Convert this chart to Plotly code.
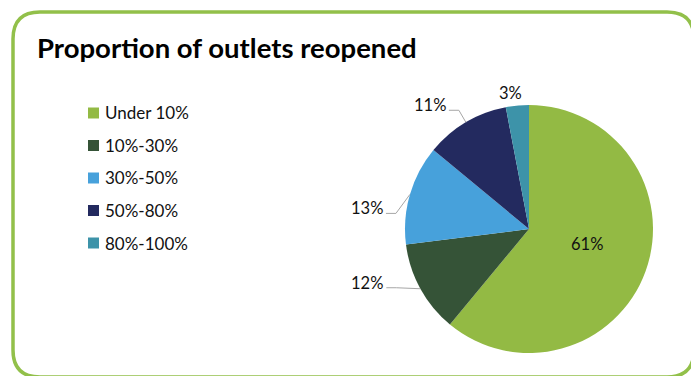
import math
import plotly.graph_objects as go

# ---- data ----
categories = ["Under 10%", "10%-30%", "30%-50%", "50%-80%", "80%-100%"]
shares = [61, 12, 13, 11, 3]
title_text = "Proportion of outlets reopened"

# ---- style ----
COLORS = ["#93BA44", "#355337", "#47A1DB", "#232A5F", "#3D93A9"]
BORDER = "#92C04A"
TEXT = "#111111"
FONT = "Lato"
W, H = 691, 376
CX, CY, R = 529, 229, 124          # pie centre / radius in px
INSIDE_MIN = 20                     # slices >= this get an inside label
LABEL_NUDGE = [(0, -6), (-53, -6), (-43, 14), (-36, -17), (-7, -13)]
SHOW_LEADER = [False, True, True, True, False]
LABEL_HALF_W = 16


def px(x):
    return x / W


def py(y):
    return 1 - y / H


fig = go.Figure(
    go.Pie(
        labels=categories,
        values=shares,
        sort=False,
        direction="clockwise",
        rotation=0,
        marker=dict(colors=COLORS, line=dict(width=0)),
        textinfo="none",
        hoverinfo="label+percent",
        showlegend=False,
        domain=dict(x=[px(CX - R), px(CX + R)], y=[py(CY + R), py(CY - R)]),
    )
)

annotations = []
shapes = []

# data labels, positioned from the slice mid-angles
total = sum(shares)
cum = 0.0
for i, v in enumerate(shares):
    mid = (cum + v / 2) / total * 2 * math.pi
    cum += v
    dx, dy = math.sin(mid), -math.cos(mid)
    inside = v >= INSIDE_MIN
    rr = R * 0.5 if inside else R
    bx, by = CX + dx * rr, CY + dy * rr
    nx, ny = LABEL_NUDGE[i]
    lx, ly = bx + nx, by + ny
    annotations.append(dict(
        x=px(lx), y=py(ly), xref="paper", yref="paper",
        text=f"{v}%", showarrow=False, xanchor="center", yanchor="middle",
        font=dict(family=FONT, size=16.5, color=TEXT),
    ))
    if SHOW_LEADER[i]:
        ex, ey = CX + dx * R, CY + dy * R
        pxp, pyp = lx + LABEL_HALF_W + 3, ly + 5
        elx, ely = pxp + 10, pyp
        path = (f"M {px(ex)} {py(ey)} L {px(elx)} {py(ely)} "
                f"L {px(pxp)} {py(pyp)}")
        shapes.append(dict(type="path", xref="paper", yref="paper", path=path,
                           line=dict(color="#A6A6A6", width=1)))

# manual legend
LEG_X, LEG_Y0, LEG_STEP, SQ = 88, 113, 32.5, 11
for i, (name, col) in enumerate(zip(categories, COLORS)):
    yc = LEG_Y0 + i * LEG_STEP
    shapes.append(dict(type="rect", xref="paper", yref="paper",
                       x0=px(LEG_X), x1=px(LEG_X + SQ),
                       y0=py(yc + SQ / 2), y1=py(yc - SQ / 2),
                       fillcolor=col, line=dict(width=0)))
    annotations.append(dict(
        x=px(LEG_X + SQ + 4), y=py(yc), xref="paper", yref="paper",
        text=name, showarrow=False, xanchor="left", yanchor="middle",
        font=dict(family=FONT, size=17, color=TEXT),
    ))

# title
annotations.append(dict(
    x=px(35), y=py(48), xref="paper", yref="paper",
    text=f"<b>{title_text}</b>", showarrow=False, xanchor="left", yanchor="middle",
    font=dict(family=FONT, size=27.5, color="#000000"),
))

# rounded green frame
L, T, Rr, B, cr = 13, 12, 694, 377, 27
frame = (
    f"M {px(L + cr)} {py(T)} L {px(Rr - cr)} {py(T)} "
    f"Q {px(Rr)} {py(T)} {px(Rr)} {py(T + cr)} "
    f"L {px(Rr)} {py(B - cr)} Q {px(Rr)} {py(B)} {px(Rr - cr)} {py(B)} "
    f"L {px(L + cr)} {py(B)} Q {px(L)} {py(B)} {px(L)} {py(B - cr)} "
    f"L {px(L)} {py(T + cr)} Q {px(L)} {py(T)} {px(L + cr)} {py(T)} Z"
)
shapes.append(dict(type="path", xref="paper", yref="paper", path=frame,
                   line=dict(color=BORDER, width=3.5), fillcolor="rgba(0,0,0,0)"))

fig.update_layout(
    width=W, height=H,
    margin=dict(l=0, r=0, t=0, b=0),
    paper_bgcolor="white", plot_bgcolor="white",
    annotations=annotations, shapes=shapes,
    showlegend=False,
)

fig.write_html("out.html")
